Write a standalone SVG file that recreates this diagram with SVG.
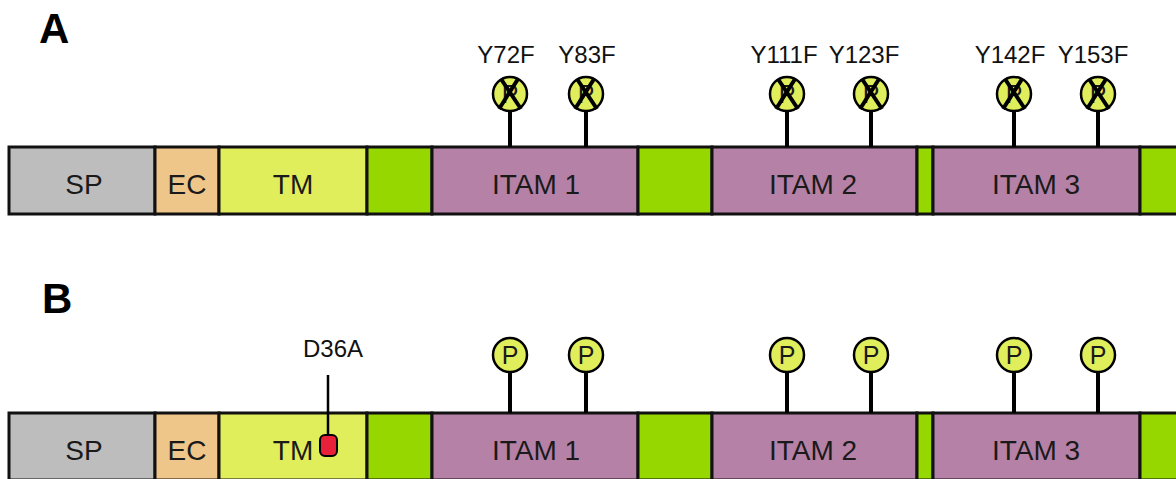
<svg xmlns="http://www.w3.org/2000/svg" width="1176" height="479" viewBox="0 0 1176 479">
  <defs>
    <style>
      .seg { stroke: #111; stroke-width: 3; }
      .sp { fill: #bdbdbd; }
      .ec { fill: #efc689; }
      .tm { fill: #e1ee5b; }
      .lk { fill: #97d700; }
      .itam { fill: #b681a6; }
      .lbl { font-family: "Liberation Sans", Arial, sans-serif; font-size: 28px; fill: #1a1a1a; text-anchor: middle; }
      .mut { font-family: "Liberation Sans", Arial, sans-serif; font-size: 24px; fill: #111; text-anchor: middle; }
      .panel { font-family: "Liberation Sans", Arial, sans-serif; font-size: 42px; font-weight: bold; fill: #000; }
      .stem { stroke: #000; stroke-width: 4; }
      .phos { fill: #e1ee5b; stroke: #000; stroke-width: 2.5; }
      .ptxt { font-family: "Liberation Sans", Arial, sans-serif; font-size: 25px; fill: #1a1a1a; text-anchor: middle; }
      .cross { stroke: #000; stroke-width: 4; stroke-linecap: butt; }
      .site { fill: #e8203a; stroke: #000; stroke-width: 2; }
    </style>
    <!-- phosphotyrosine site, centred on the origin -->
    <g id="psite">
      <circle class="phos" cx="0" cy="0" r="17"/>
      <text class="ptxt" x="0" y="9">P</text>
    </g>
    <!-- phospho-dead site (Y→F): P with an X over it -->
    <g id="deadsite">
      <use href="#psite"/>
      <line class="cross" x1="-9" y1="-15" x2="11" y2="15"/>
      <line class="cross" x1="8" y1="-15" x2="-11" y2="15"/>
    </g>
  </defs>

  <!-- panel letters -->
  <text class="panel" x="39" y="43">A</text>
  <text class="panel" x="42" y="313">B</text>

  <!-- ===== Panel A: ITAM tyrosine mutants ===== -->
  <g id="rowA">
    <g id="a-sp"><rect class="seg sp" x="9" y="147" width="146" height="67"/><text class="lbl" x="84" y="194">SP</text></g>
    <g id="a-ec"><rect class="seg ec" x="155" y="147" width="64" height="67"/><text class="lbl" x="187" y="194">EC</text></g>
    <g id="a-tm"><rect class="seg tm" x="219" y="147" width="148" height="67"/><text class="lbl" x="293" y="194">TM</text></g>
    <g id="a-l1"><rect class="seg lk" x="367" y="147" width="65" height="67"/></g>
    <g id="a-itam1"><rect class="seg itam" x="432" y="147" width="206" height="67"/><text class="lbl" x="536" y="194">ITAM 1</text></g>
    <g id="a-l2"><rect class="seg lk" x="638" y="147" width="74" height="67"/></g>
    <g id="a-itam2"><rect class="seg itam" x="712" y="147" width="205" height="67"/><text class="lbl" x="813" y="194">ITAM 2</text></g>
    <g id="a-l3"><rect class="seg lk" x="917" y="147" width="16" height="67"/></g>
    <g id="a-itam3"><rect class="seg itam" x="933" y="147" width="207" height="67"/><text class="lbl" x="1036" y="194">ITAM 3</text></g>
    <g id="a-l4"><rect class="seg lk" x="1140" y="147" width="40" height="67"/></g>
  </g>

  <g id="sitesA">
    <g id="y72f"><line class="stem" x1="510" y1="110" x2="510" y2="147"/><use href="#deadsite" x="510" y="94"/><text class="mut" x="506" y="63">Y72F</text></g>
    <g id="y83f"><line class="stem" x1="586" y1="110" x2="586" y2="147"/><use href="#deadsite" x="586" y="94"/><text class="mut" x="587" y="63">Y83F</text></g>
    <g id="y111f"><line class="stem" x1="787" y1="110" x2="787" y2="147"/><use href="#deadsite" x="787" y="94"/><text class="mut" x="784" y="63">Y111F</text></g>
    <g id="y123f"><line class="stem" x1="871" y1="110" x2="871" y2="147"/><use href="#deadsite" x="871" y="94"/><text class="mut" x="864" y="63">Y123F</text></g>
    <g id="y142f"><line class="stem" x1="1014" y1="110" x2="1014" y2="147"/><use href="#deadsite" x="1014" y="94"/><text class="mut" x="1010" y="63">Y142F</text></g>
    <g id="y153f"><line class="stem" x1="1098" y1="110" x2="1098" y2="147"/><use href="#deadsite" x="1098" y="94"/><text class="mut" x="1093" y="63">Y153F</text></g>
  </g>

  <!-- ===== Panel B: TM aspartate mutant ===== -->
  <g id="rowB">
    <g id="b-sp"><rect class="seg sp" x="9" y="413" width="146" height="67"/><text class="lbl" x="84" y="460">SP</text></g>
    <g id="b-ec"><rect class="seg ec" x="155" y="413" width="64" height="67"/><text class="lbl" x="187" y="460">EC</text></g>
    <g id="b-tm"><rect class="seg tm" x="219" y="413" width="148" height="67"/><text class="lbl" x="293" y="460">TM</text></g>
    <g id="b-l1"><rect class="seg lk" x="367" y="413" width="65" height="67"/></g>
    <g id="b-itam1"><rect class="seg itam" x="432" y="413" width="206" height="67"/><text class="lbl" x="536" y="460">ITAM 1</text></g>
    <g id="b-l2"><rect class="seg lk" x="638" y="413" width="74" height="67"/></g>
    <g id="b-itam2"><rect class="seg itam" x="712" y="413" width="205" height="67"/><text class="lbl" x="813" y="460">ITAM 2</text></g>
    <g id="b-l3"><rect class="seg lk" x="917" y="413" width="16" height="67"/></g>
    <g id="b-itam3"><rect class="seg itam" x="933" y="413" width="207" height="67"/><text class="lbl" x="1036" y="460">ITAM 3</text></g>
    <g id="b-l4"><rect class="seg lk" x="1140" y="413" width="40" height="67"/></g>
  </g>

  <g id="sitesB">
    <g id="pB1"><line class="stem" x1="510" y1="370" x2="510" y2="413"/><use href="#psite" x="510" y="355"/></g>
    <g id="pB2"><line class="stem" x1="586" y1="370" x2="586" y2="413"/><use href="#psite" x="586" y="355"/></g>
    <g id="pB3"><line class="stem" x1="787" y1="370" x2="787" y2="413"/><use href="#psite" x="787" y="355"/></g>
    <g id="pB4"><line class="stem" x1="871" y1="370" x2="871" y2="413"/><use href="#psite" x="871" y="355"/></g>
    <g id="pB5"><line class="stem" x1="1014" y1="370" x2="1014" y2="413"/><use href="#psite" x="1014" y="355"/></g>
    <g id="pB6"><line class="stem" x1="1098" y1="370" x2="1098" y2="413"/><use href="#psite" x="1098" y="355"/></g>
    <g id="d36a">
      <line x1="328" y1="375" x2="328" y2="436" stroke="#000" stroke-width="2.5"/>
      <rect class="site" x="320" y="435" width="17" height="21" rx="5"/>
      <text class="mut" x="333" y="357">D36A</text>
    </g>
  </g>
</svg>
